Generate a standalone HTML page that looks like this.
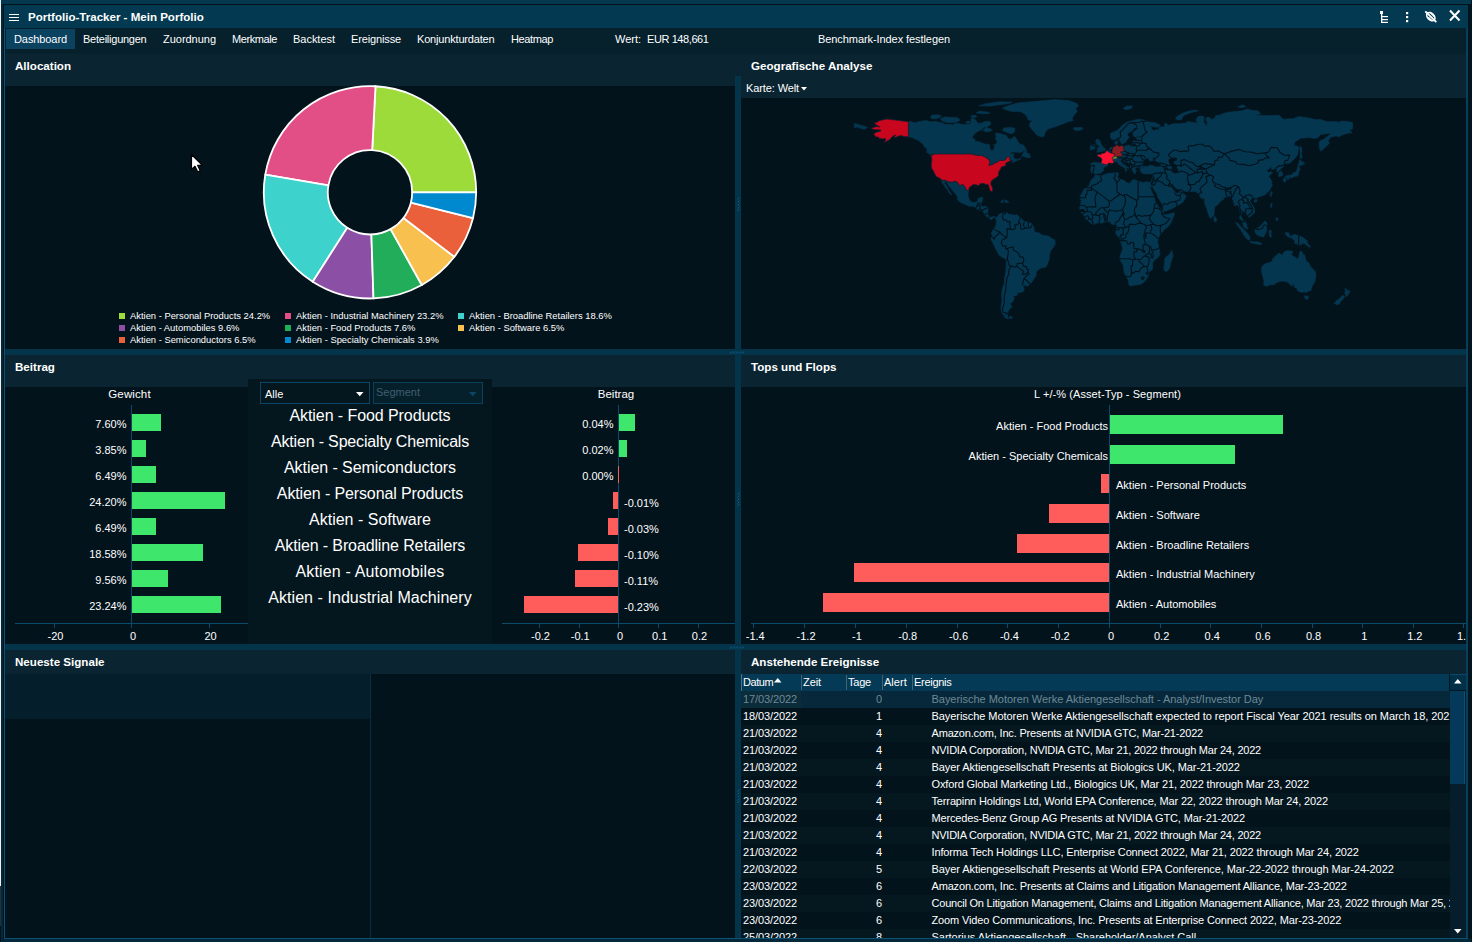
<!DOCTYPE html>
<html><head><meta charset="utf-8"><title>Portfolio-Tracker</title>
<style>
html,body{margin:0;padding:0;background:#03131c;}
body{width:1472px;height:942px;position:relative;overflow:hidden;font-family:"Liberation Sans", sans-serif;}
div,svg{position:absolute;}
.t{white-space:pre;font-family:"Liberation Sans", sans-serif;}
</style></head><body>
<div style="left:0px;top:0px;width:1472px;height:942px;background:#03131c;"></div>
<div style="left:1px;top:0px;width:1470px;height:4px;background:#04384f;"></div>
<div style="left:1px;top:4px;width:3px;height:938px;background:#03283a;"></div>
<div style="left:0px;top:0px;width:1px;height:886px;background:#f0f0f0;"></div>
<div style="left:0px;top:886px;width:1px;height:40px;background:#22313a;"></div>
<div style="left:3px;top:4px;width:1px;height:938px;background:#02141e;"></div>
<div style="left:4px;top:5px;width:1464px;height:23px;background:#033a51;"></div>
<div style="left:4px;top:28px;width:1px;height:911px;background:#0a5275;"></div>
<div style="left:1466px;top:28px;width:2px;height:911px;background:#06405c;"></div>
<div style="left:1468px;top:4px;width:4px;height:938px;background:#02141e;"></div>
<div style="left:1471px;top:0px;width:1px;height:4px;background:#02141e;"></div>
<div style="left:4px;top:938px;width:1464px;height:1px;background:#0a5275;"></div>
<div style="left:1px;top:939px;width:1470px;height:3px;background:#03283a;"></div>
<div style="left:5px;top:28px;width:1461px;height:26px;background:#06202c;"></div>
<div style="left:6px;top:29px;width:69px;height:20px;background:#0a4260;"></div>
<div style="left:9px;top:14px;width:10px;height:1.4px;background:#fff;"></div>
<div style="left:9px;top:17px;width:10px;height:1.4px;background:#fff;"></div>
<div style="left:9px;top:20px;width:10px;height:1.4px;background:#fff;"></div>
<div class="t" style="top:10.0px;line-height:14px;font-size:11.56px;color:#fff;font-weight:bold;left:28px;">Portfolio-Tracker - Mein Porfolio</div>
<div class="t" style="top:31.5px;line-height:14px;font-size:11px;color:#fff;left:14px;letter-spacing:-0.091px;">Dashboard</div>
<div class="t" style="top:31.5px;line-height:14px;font-size:11px;color:#fff;left:83px;letter-spacing:-0.244px;">Beteiligungen</div>
<div class="t" style="top:31.5px;line-height:14px;font-size:11px;color:#fff;left:163px;letter-spacing:-0.023px;">Zuordnung</div>
<div class="t" style="top:31.5px;line-height:14px;font-size:11px;color:#fff;left:232px;letter-spacing:-0.411px;">Merkmale</div>
<div class="t" style="top:31.5px;line-height:14px;font-size:11px;color:#fff;left:293px;letter-spacing:-0.023px;">Backtest</div>
<div class="t" style="top:31.5px;line-height:14px;font-size:11px;color:#fff;left:351px;letter-spacing:-0.136px;">Ereignisse</div>
<div class="t" style="top:31.5px;line-height:14px;font-size:11px;color:#fff;left:417px;letter-spacing:-0.175px;">Konjunkturdaten</div>
<div class="t" style="top:31.5px;line-height:14px;font-size:11px;color:#fff;left:511px;letter-spacing:-0.376px;">Heatmap</div>
<div class="t" style="top:31.5px;line-height:14px;font-size:11px;color:#fff;left:615px;letter-spacing:-0.015px;">Wert:</div>
<div class="t" style="top:31.5px;line-height:14px;font-size:11px;color:#fff;left:647px;letter-spacing:-0.413px;">EUR 148,661</div>
<div class="t" style="top:31.5px;line-height:14px;font-size:11px;color:#fff;left:818px;letter-spacing:-0.076px;">Benchmark-Index festlegen</div>
<svg style="left:1378px;top:9px" width="90" height="16" viewBox="0 0 90 16">
<g fill="#fff" stroke="none">
<rect x="2" y="2" width="3" height="3"/><rect x="3" y="4" width="1.3" height="10"/>
<rect x="3" y="7" width="7" height="1.2"/><rect x="3" y="10" width="7" height="1.2"/><rect x="3" y="12.8" width="7" height="1.2"/>
<rect x="28" y="3" width="2.2" height="2.2"/><rect x="28" y="7" width="2.2" height="2.2"/><rect x="28" y="11" width="2.2" height="2.2"/>
</g>
<g fill="none" stroke="#fff" stroke-width="1.6">
<ellipse cx="52.8" cy="7.6" rx="4.8" ry="3.2" transform="rotate(45 52.8 7.6)" stroke-width="1.7"/>
<path d="M47.3 2.3 L58.3 13.2" stroke-width="1.9"/><path d="M50.2 8.2 L53.6 11.6" stroke-width="1.4"/><path d="M52.2 3.6 L56.4 7.8" stroke-width="1.4"/>
<path d="M72 1.5 L81.5 11.5 M81.5 1.5 L72 11.5" stroke-width="2"/>
</g></svg>
<div style="left:5px;top:54px;width:1461px;height:32px;background:#0a2531;"></div>
<div style="left:741px;top:86px;width:725px;height:12px;background:#0a2531;"></div>
<div style="left:735px;top:76px;width:6px;height:273px;background:#04344a;"></div>
<div class="t" style="top:59.0px;line-height:14px;font-size:11.6px;color:#fff;font-weight:bold;left:15px;">Allocation</div>
<div class="t" style="top:59.0px;line-height:14px;font-size:11.6px;color:#fff;font-weight:bold;left:751px;">Geografische Analyse</div>
<div class="t" style="top:81.0px;line-height:14px;font-size:11px;color:#fff;left:746px;letter-spacing:-0.110px;">Karte: Welt</div>
<svg style="left:801px;top:87px" width="7" height="4"><path d="M0 0H6L3 3.5Z" fill="#fff"/></svg>
<svg style="left:0;top:0" width="736" height="349" viewBox="0 0 736 349"><g stroke="#fff" stroke-width="1.8" stroke-linejoin="round"><path d="M476.20 192.30A106.2 106.2 0 0 0 375.50 86.24L372.18 150.16A42.2 42.2 0 0 1 412.20 192.30Z" fill="#9ddb3b"/><path d="M375.50 86.24A106.2 106.2 0 0 0 265.27 174.72L328.38 185.31A42.2 42.2 0 0 1 372.18 150.16Z" fill="#e24e86"/><path d="M265.27 174.72A106.2 106.2 0 0 0 312.72 281.73L347.24 227.84A42.2 42.2 0 0 1 328.38 185.31Z" fill="#3ed2cd"/><path d="M312.72 281.73A106.2 106.2 0 0 0 373.50 298.44L371.39 234.48A42.2 42.2 0 0 1 347.24 227.84Z" fill="#8c4fa6"/><path d="M373.50 298.44A106.2 106.2 0 0 0 421.84 284.99L390.60 229.13A42.2 42.2 0 0 1 371.39 234.48Z" fill="#21ad59"/><path d="M421.84 284.99A106.2 106.2 0 0 0 454.36 256.81L403.52 217.93A42.2 42.2 0 0 1 390.60 229.13Z" fill="#f8c14f"/><path d="M454.36 256.81A106.2 106.2 0 0 0 473.03 218.04L410.94 202.53A42.2 42.2 0 0 1 403.52 217.93Z" fill="#e9603b"/><path d="M473.03 218.04A106.2 106.2 0 0 0 476.20 192.30L412.20 192.30A42.2 42.2 0 0 1 410.94 202.53Z" fill="#0089cf"/></g></svg>
<div style="left:119px;top:313px;width:6px;height:6px;background:#9ddb3b;"></div>
<div class="t" style="top:309.0px;line-height:14px;font-size:9.4px;color:#fff;left:130px;">Aktien - Personal Products 24.2%</div>
<div style="left:285px;top:313px;width:6px;height:6px;background:#e24e86;"></div>
<div class="t" style="top:309.0px;line-height:14px;font-size:9.4px;color:#fff;left:296px;">Aktien - Industrial Machinery 23.2%</div>
<div style="left:458px;top:313px;width:6px;height:6px;background:#3ed2cd;"></div>
<div class="t" style="top:309.0px;line-height:14px;font-size:9.4px;color:#fff;left:469px;">Aktien - Broadline Retailers 18.6%</div>
<div style="left:119px;top:325px;width:6px;height:6px;background:#8c4fa6;"></div>
<div class="t" style="top:321.0px;line-height:14px;font-size:9.4px;color:#fff;left:130px;">Aktien - Automobiles 9.6%</div>
<div style="left:285px;top:325px;width:6px;height:6px;background:#21ad59;"></div>
<div class="t" style="top:321.0px;line-height:14px;font-size:9.4px;color:#fff;left:296px;">Aktien - Food Products 7.6%</div>
<div style="left:458px;top:325px;width:6px;height:6px;background:#f8c14f;"></div>
<div class="t" style="top:321.0px;line-height:14px;font-size:9.4px;color:#fff;left:469px;">Aktien - Software 6.5%</div>
<div style="left:119px;top:337px;width:6px;height:6px;background:#e9603b;"></div>
<div class="t" style="top:333.0px;line-height:14px;font-size:9.4px;color:#fff;left:130px;">Aktien - Semiconductors 6.5%</div>
<div style="left:285px;top:337px;width:6px;height:6px;background:#0089cf;"></div>
<div class="t" style="top:333.0px;line-height:14px;font-size:9.4px;color:#fff;left:296px;">Aktien - Specialty Chemicals 3.9%</div>
<svg style="left:190.2px;top:152.7px" width="16" height="22" viewBox="-1.5 -1.5 16 22"><path d="M0 0 L0 15 L3.5 11.8 L6.2 17.3 L8.7 16.2 L6.1 10.8 L10.6 10.6 Z" fill="#fff" stroke="#000" stroke-width="1.2" stroke-linejoin="round"/></svg>
<div style="left:5px;top:349px;width:1461px;height:6px;background:#04344a;"></div>
<div style="left:5px;top:355px;width:1461px;height:32px;background:#0a2531;"></div>
<div style="left:735px;top:355px;width:6px;height:289px;background:#04344a;"></div>
<div class="t" style="top:360.0px;line-height:14px;font-size:11.6px;color:#fff;font-weight:bold;left:15px;">Beitrag</div>
<div class="t" style="top:360.0px;line-height:14px;font-size:11.6px;color:#fff;font-weight:bold;left:751px;">Tops und Flops</div>
<div style="left:248px;top:379px;width:244px;height:265px;background:#04161e;"></div>
<div style="left:260px;top:382px;width:108px;height:20px;border:1px solid #0b4666;background:#04161e"></div>
<div style="left:373px;top:382px;width:108px;height:20px;border:1px solid #0a405c;background:#06202b"></div>
<div class="t" style="top:386.5px;line-height:14px;font-size:11px;color:#fff;left:265px;">Alle</div>
<div class="t" style="top:385.0px;line-height:14px;font-size:11px;color:#3f5f70;left:376px;">Segment</div>
<svg style="left:356px;top:392px" width="8" height="5"><path d="M0 0H7.5L3.75 4.3Z" fill="#fff"/></svg>
<svg style="left:469px;top:392px" width="8" height="5"><path d="M0 0H7.5L3.75 4.3Z" fill="#0b4666"/></svg>
<div style="left:131px;top:405px;width:1px;height:218px;background:#0b4a6a;"></div>
<div style="left:15px;top:623px;width:233px;height:1px;background:#0b4a6a;"></div>
<div style="left:618px;top:405px;width:1px;height:218px;background:#0b4a6a;"></div>
<div style="left:502px;top:623px;width:233px;height:1px;background:#0b4a6a;"></div>
<div class="t" style="left:170px;width:400px;text-align:center;top:405.7px;line-height:20px;font-size:16px;color:#fff;letter-spacing:-0.079px;">Aktien - Food Products</div>
<div style="left:132px;top:414px;width:29px;height:17px;background:#3ee66b;"></div>
<div class="t" style="top:417.0px;line-height:14px;font-size:11px;color:#fff;right:1345.5px;">7.60%</div>
<div style="left:619px;top:414px;width:16px;height:17px;background:#3ee66b;"></div>
<div class="t" style="top:417.0px;line-height:14px;font-size:11px;color:#fff;right:858.5px;">0.04%</div>
<div class="t" style="left:170px;width:400px;text-align:center;top:431.7px;line-height:20px;font-size:16px;color:#fff;letter-spacing:-0.162px;">Aktien - Specialty Chemicals</div>
<div style="left:132px;top:440px;width:14px;height:17px;background:#3ee66b;"></div>
<div class="t" style="top:443.0px;line-height:14px;font-size:11px;color:#fff;right:1345.5px;">3.85%</div>
<div style="left:619px;top:440px;width:8px;height:17px;background:#3ee66b;"></div>
<div class="t" style="top:443.0px;line-height:14px;font-size:11px;color:#fff;right:858.5px;">0.02%</div>
<div class="t" style="left:170px;width:400px;text-align:center;top:457.7px;line-height:20px;font-size:16px;color:#fff;letter-spacing:-0.061px;">Aktien - Semiconductors</div>
<div style="left:132px;top:466px;width:24px;height:17px;background:#3ee66b;"></div>
<div class="t" style="top:469.0px;line-height:14px;font-size:11px;color:#fff;right:1345.5px;">6.49%</div>
<div style="left:618px;top:466px;width:1px;height:17px;background:#ff5c5c;"></div>
<div class="t" style="top:469.0px;line-height:14px;font-size:11px;color:#fff;right:858.5px;">0.00%</div>
<div class="t" style="left:170px;width:400px;text-align:center;top:483.7px;line-height:20px;font-size:16px;color:#fff;letter-spacing:-0.120px;">Aktien - Personal Products</div>
<div style="left:132px;top:492px;width:93px;height:17px;background:#3ee66b;"></div>
<div class="t" style="top:495.0px;line-height:14px;font-size:11px;color:#fff;right:1345.5px;">24.20%</div>
<div style="left:613px;top:492px;width:5px;height:17px;background:#ff5c5c;"></div>
<div class="t" style="top:495.5px;line-height:14px;font-size:11px;color:#fff;left:624px;">-0.01%</div>
<div class="t" style="left:170px;width:400px;text-align:center;top:509.7px;line-height:20px;font-size:16px;color:#fff;letter-spacing:0.010px;">Aktien - Software</div>
<div style="left:132px;top:518px;width:24px;height:17px;background:#3ee66b;"></div>
<div class="t" style="top:521.0px;line-height:14px;font-size:11px;color:#fff;right:1345.5px;">6.49%</div>
<div style="left:608px;top:518px;width:10px;height:17px;background:#ff5c5c;"></div>
<div class="t" style="top:521.5px;line-height:14px;font-size:11px;color:#fff;left:624px;">-0.03%</div>
<div class="t" style="left:170px;width:400px;text-align:center;top:535.7px;line-height:20px;font-size:16px;color:#fff;letter-spacing:-0.120px;">Aktien - Broadline Retailers</div>
<div style="left:132px;top:544px;width:71px;height:17px;background:#3ee66b;"></div>
<div class="t" style="top:547.0px;line-height:14px;font-size:11px;color:#fff;right:1345.5px;">18.58%</div>
<div style="left:578px;top:544px;width:40px;height:17px;background:#ff5c5c;"></div>
<div class="t" style="top:547.5px;line-height:14px;font-size:11px;color:#fff;left:624px;">-0.10%</div>
<div class="t" style="left:170px;width:400px;text-align:center;top:561.7px;line-height:20px;font-size:16px;color:#fff;letter-spacing:0.157px;">Aktien - Automobiles</div>
<div style="left:132px;top:570px;width:36px;height:17px;background:#3ee66b;"></div>
<div class="t" style="top:573.0px;line-height:14px;font-size:11px;color:#fff;right:1345.5px;">9.56%</div>
<div style="left:575px;top:570px;width:43px;height:17px;background:#ff5c5c;"></div>
<div class="t" style="top:573.5px;line-height:14px;font-size:11px;color:#fff;left:624px;">-0.11%</div>
<div class="t" style="left:170px;width:400px;text-align:center;top:587.7px;line-height:20px;font-size:16px;color:#fff;letter-spacing:0.056px;">Aktien - Industrial Machinery</div>
<div style="left:132px;top:596px;width:89px;height:17px;background:#3ee66b;"></div>
<div class="t" style="top:599.0px;line-height:14px;font-size:11px;color:#fff;right:1345.5px;">23.24%</div>
<div style="left:524px;top:596px;width:94px;height:17px;background:#ff5c5c;"></div>
<div class="t" style="top:599.5px;line-height:14px;font-size:11px;color:#fff;left:624px;">-0.23%</div>
<div class="t" style="top:387.0px;line-height:14px;font-size:11.5px;color:#fff;left:-170.5px;width:600px;text-align:center;letter-spacing:0.123px;">Gewicht</div>
<div class="t" style="top:387.0px;line-height:14px;font-size:11.5px;color:#fff;left:316px;width:600px;text-align:center;">Beitrag</div>
<div style="left:54px;top:623px;width:1px;height:5px;background:#0b4a6a;"></div>
<div class="t" style="top:628.5px;line-height:14px;font-size:11px;color:#fff;left:-244.5px;width:600px;text-align:center;">-20</div>
<div style="left:131px;top:623px;width:1px;height:5px;background:#0b4a6a;"></div>
<div class="t" style="top:628.5px;line-height:14px;font-size:11px;color:#fff;left:-167.0px;width:600px;text-align:center;">0</div>
<div style="left:209px;top:623px;width:1px;height:5px;background:#0b4a6a;"></div>
<div class="t" style="top:628.5px;line-height:14px;font-size:11px;color:#fff;left:-89.5px;width:600px;text-align:center;">20</div>
<div style="left:539px;top:623px;width:1px;height:5px;background:#0b4a6a;"></div>
<div class="t" style="top:628.5px;line-height:14px;font-size:11px;color:#fff;left:240.5px;width:600px;text-align:center;">-0.2</div>
<div style="left:579px;top:623px;width:1px;height:5px;background:#0b4a6a;"></div>
<div class="t" style="top:628.5px;line-height:14px;font-size:11px;color:#fff;left:280.25px;width:600px;text-align:center;">-0.1</div>
<div style="left:618px;top:623px;width:1px;height:5px;background:#0b4a6a;"></div>
<div class="t" style="top:628.5px;line-height:14px;font-size:11px;color:#fff;left:320.0px;width:600px;text-align:center;">0</div>
<div style="left:658px;top:623px;width:1px;height:5px;background:#0b4a6a;"></div>
<div class="t" style="top:628.5px;line-height:14px;font-size:11px;color:#fff;left:359.75px;width:600px;text-align:center;">0.1</div>
<div style="left:698px;top:623px;width:1px;height:5px;background:#0b4a6a;"></div>
<div class="t" style="top:628.5px;line-height:14px;font-size:11px;color:#fff;left:399.5px;width:600px;text-align:center;">0.2</div>
<div class="t" style="top:387.0px;line-height:14px;font-size:11px;color:#fff;left:807.5px;width:600px;text-align:center;letter-spacing:0.08px;">L +/-% (Asset-Typ - Segment)</div>
<div style="left:1109px;top:405px;width:1px;height:218px;background:#0b4a6a;"></div>
<div style="left:751px;top:623px;width:715px;height:1px;background:#0b4a6a;"></div>
<div style="left:1110px;top:415px;width:172.7px;height:19px;background:#3ee66b;"></div>
<div class="t" style="top:418.5px;line-height:14px;font-size:11px;color:#fff;right:364px;">Aktien - Food Products</div>
<div style="left:1110px;top:445px;width:124.5px;height:19px;background:#3ee66b;"></div>
<div class="t" style="top:448.5px;line-height:14px;font-size:11px;color:#fff;right:364px;">Aktien - Specialty Chemicals</div>
<div style="left:1100.6px;top:474px;width:8.4px;height:19px;background:#ff5c5c;"></div>
<div class="t" style="top:477.5px;line-height:14px;font-size:11px;color:#fff;left:1116px;">Aktien - Personal Products</div>
<div style="left:1048.5px;top:504px;width:60.5px;height:19px;background:#ff5c5c;"></div>
<div class="t" style="top:507.5px;line-height:14px;font-size:11px;color:#fff;left:1116px;">Aktien - Software</div>
<div style="left:1016.5px;top:534px;width:92.5px;height:19px;background:#ff5c5c;"></div>
<div class="t" style="top:537.5px;line-height:14px;font-size:11px;color:#fff;left:1116px;">Aktien - Broadline Retailers</div>
<div style="left:853.5px;top:563px;width:255.5px;height:19px;background:#ff5c5c;"></div>
<div class="t" style="top:566.5px;line-height:14px;font-size:11px;color:#fff;left:1116px;">Aktien - Industrial Machinery</div>
<div style="left:822.5px;top:593px;width:286.5px;height:19px;background:#ff5c5c;"></div>
<div class="t" style="top:596.5px;line-height:14px;font-size:11px;color:#fff;left:1116px;">Aktien - Automobiles</div>
<div style="left:753px;top:623px;width:1px;height:5px;background:#0b4a6a;"></div>
<div class="t" style="top:628.5px;line-height:14px;font-size:11px;color:#fff;left:455.26px;width:600px;text-align:center;">-1.4</div>
<div style="left:804px;top:623px;width:1px;height:5px;background:#0b4a6a;"></div>
<div class="t" style="top:628.5px;line-height:14px;font-size:11px;color:#fff;left:506.08000000000004px;width:600px;text-align:center;">-1.2</div>
<div style="left:855px;top:623px;width:1px;height:5px;background:#0b4a6a;"></div>
<div class="t" style="top:628.5px;line-height:14px;font-size:11px;color:#fff;left:556.9px;width:600px;text-align:center;">-1</div>
<div style="left:906px;top:623px;width:1px;height:5px;background:#0b4a6a;"></div>
<div class="t" style="top:628.5px;line-height:14px;font-size:11px;color:#fff;left:607.72px;width:600px;text-align:center;">-0.8</div>
<div style="left:957px;top:623px;width:1px;height:5px;background:#0b4a6a;"></div>
<div class="t" style="top:628.5px;line-height:14px;font-size:11px;color:#fff;left:658.54px;width:600px;text-align:center;">-0.6</div>
<div style="left:1007px;top:623px;width:1px;height:5px;background:#0b4a6a;"></div>
<div class="t" style="top:628.5px;line-height:14px;font-size:11px;color:#fff;left:709.36px;width:600px;text-align:center;">-0.4</div>
<div style="left:1058px;top:623px;width:1px;height:5px;background:#0b4a6a;"></div>
<div class="t" style="top:628.5px;line-height:14px;font-size:11px;color:#fff;left:760.1800000000001px;width:600px;text-align:center;">-0.2</div>
<div style="left:1109px;top:623px;width:1px;height:5px;background:#0b4a6a;"></div>
<div class="t" style="top:628.5px;line-height:14px;font-size:11px;color:#fff;left:811.0px;width:600px;text-align:center;">0</div>
<div style="left:1160px;top:623px;width:1px;height:5px;background:#0b4a6a;"></div>
<div class="t" style="top:628.5px;line-height:14px;font-size:11px;color:#fff;left:861.6399999999999px;width:600px;text-align:center;">0.2</div>
<div style="left:1210px;top:623px;width:1px;height:5px;background:#0b4a6a;"></div>
<div class="t" style="top:628.5px;line-height:14px;font-size:11px;color:#fff;left:912.28px;width:600px;text-align:center;">0.4</div>
<div style="left:1261px;top:623px;width:1px;height:5px;background:#0b4a6a;"></div>
<div class="t" style="top:628.5px;line-height:14px;font-size:11px;color:#fff;left:962.9200000000001px;width:600px;text-align:center;">0.6</div>
<div style="left:1312px;top:623px;width:1px;height:5px;background:#0b4a6a;"></div>
<div class="t" style="top:628.5px;line-height:14px;font-size:11px;color:#fff;left:1013.56px;width:600px;text-align:center;">0.8</div>
<div style="left:1362px;top:623px;width:1px;height:5px;background:#0b4a6a;"></div>
<div class="t" style="top:628.5px;line-height:14px;font-size:11px;color:#fff;left:1064.2px;width:600px;text-align:center;">1</div>
<div style="left:1413px;top:623px;width:1px;height:5px;background:#0b4a6a;"></div>
<div class="t" style="top:628.5px;line-height:14px;font-size:11px;color:#fff;left:1114.84px;width:600px;text-align:center;">1.2</div>
<div style="left:1463px;top:623px;width:1px;height:5px;background:#0b4a6a;"></div>
<div class="t" style="top:628.5px;line-height:14px;font-size:11px;color:#fff;left:1457px;">1.</div>
<div style="left:5px;top:644px;width:1461px;height:6px;background:#04344a;"></div>
<div style="left:5px;top:650px;width:1461px;height:24px;background:#0a2531;"></div>
<div style="left:735px;top:650px;width:6px;height:288px;background:#04344a;"></div>
<div class="t" style="top:655.0px;line-height:14px;font-size:11.6px;color:#fff;font-weight:bold;left:15px;">Neueste Signale</div>
<div class="t" style="top:655.0px;line-height:14px;font-size:11.6px;color:#fff;font-weight:bold;left:751px;">Anstehende Ereignisse</div>
<div style="left:5px;top:674px;width:365px;height:45px;background:#041e2b;"></div>
<div style="left:370px;top:674px;width:1px;height:264px;background:#0a2c3e;"></div>
<div style="left:741px;top:674px;width:709px;height:17px;background:#043a56;"></div>
<div style="left:741px;top:674px;width:1px;height:17px;background:#56717e;"></div>
<div style="left:801px;top:675px;width:1px;height:15px;background:#44626f;"></div>
<div style="left:846px;top:675px;width:1px;height:15px;background:#44626f;"></div>
<div style="left:882px;top:675px;width:1px;height:15px;background:#44626f;"></div>
<div style="left:912px;top:675px;width:1px;height:15px;background:#44626f;"></div>
<div class="t" style="top:674.5px;line-height:14px;font-size:11px;color:#fff;left:743px;letter-spacing:-0.420px;">Datum</div>
<div class="t" style="top:674.5px;line-height:14px;font-size:11px;color:#fff;left:803px;letter-spacing:-0.084px;">Zeit</div>
<div class="t" style="top:674.5px;line-height:14px;font-size:11px;color:#fff;left:848px;letter-spacing:-0.213px;">Tage</div>
<div class="t" style="top:674.5px;line-height:14px;font-size:11px;color:#fff;left:884px;letter-spacing:0.036px;">Alert</div>
<div class="t" style="top:674.5px;line-height:14px;font-size:11px;color:#fff;left:914px;letter-spacing:-0.280px;">Ereignis</div>
<svg style="left:774px;top:678px" width="8" height="5"><path d="M0 4.5H7.5L3.75 0Z" fill="#fff"/></svg>
<div style="left:741px;top:691px;width:709px;height:247px;overflow:hidden">
<div style="left:0;top:0px;width:709px;height:17px;background:#06283a"></div>
<div style="left:0;top:0px;width:60px;height:17px;background:#0b2c3b"></div>
<div class="t" style="left:2px;top:0.5px;line-height:14px;font-size:11px;color:#6e8896;letter-spacing:-0.105px;">17/03/2022</div>
<div class="t" style="right:568px;top:0.5px;line-height:14px;font-size:11px;color:#6e8896;">0</div>
<div class="t" style="left:190.5px;top:0.5px;line-height:14px;font-size:11px;color:#6e8896;letter-spacing:-0.028px;">Bayerische Motoren Werke Aktiengesellschaft - Analyst/Investor Day</div>
<div style="left:0;top:17px;width:709px;height:17px;background:#03131c"></div>
<div class="t" style="left:2px;top:17.5px;line-height:14px;font-size:11px;color:#fff;letter-spacing:-0.105px;">18/03/2022</div>
<div class="t" style="right:568px;top:17.5px;line-height:14px;font-size:11px;color:#fff;">1</div>
<div class="t" style="left:190.5px;top:17.5px;line-height:14px;font-size:11px;color:#fff;letter-spacing:-0.057px;">Bayerische Motoren Werke Aktiengesellschaft expected to report Fiscal Year 2021 results on March 18, 2022</div>
<div style="left:0;top:34px;width:709px;height:17px;background:#05171f"></div>
<div class="t" style="left:2px;top:34.5px;line-height:14px;font-size:11px;color:#fff;letter-spacing:-0.105px;">21/03/2022</div>
<div class="t" style="right:568px;top:34.5px;line-height:14px;font-size:11px;color:#fff;">4</div>
<div class="t" style="left:190.5px;top:34.5px;line-height:14px;font-size:11px;color:#fff;letter-spacing:-0.187px;">Amazon.com, Inc. Presents at NVIDIA GTC, Mar-21-2022</div>
<div style="left:0;top:51px;width:709px;height:17px;background:#03131c"></div>
<div class="t" style="left:2px;top:51.5px;line-height:14px;font-size:11px;color:#fff;letter-spacing:-0.105px;">21/03/2022</div>
<div class="t" style="right:568px;top:51.5px;line-height:14px;font-size:11px;color:#fff;">4</div>
<div class="t" style="left:190.5px;top:51.5px;line-height:14px;font-size:11px;color:#fff;letter-spacing:-0.227px;">NVIDIA Corporation, NVIDIA GTC, Mar 21, 2022 through Mar 24, 2022</div>
<div style="left:0;top:68px;width:709px;height:17px;background:#05171f"></div>
<div class="t" style="left:2px;top:68.5px;line-height:14px;font-size:11px;color:#fff;letter-spacing:-0.105px;">21/03/2022</div>
<div class="t" style="right:568px;top:68.5px;line-height:14px;font-size:11px;color:#fff;">4</div>
<div class="t" style="left:190.5px;top:68.5px;line-height:14px;font-size:11px;color:#fff;letter-spacing:-0.075px;">Bayer Aktiengesellschaft Presents at Biologics UK, Mar-21-2022</div>
<div style="left:0;top:85px;width:709px;height:17px;background:#03131c"></div>
<div class="t" style="left:2px;top:85.5px;line-height:14px;font-size:11px;color:#fff;letter-spacing:-0.105px;">21/03/2022</div>
<div class="t" style="right:568px;top:85.5px;line-height:14px;font-size:11px;color:#fff;">4</div>
<div class="t" style="left:190.5px;top:85.5px;line-height:14px;font-size:11px;color:#fff;letter-spacing:-0.140px;">Oxford Global Marketing Ltd., Biologics UK, Mar 21, 2022 through Mar 23, 2022</div>
<div style="left:0;top:102px;width:709px;height:17px;background:#05171f"></div>
<div class="t" style="left:2px;top:102.5px;line-height:14px;font-size:11px;color:#fff;letter-spacing:-0.105px;">21/03/2022</div>
<div class="t" style="right:568px;top:102.5px;line-height:14px;font-size:11px;color:#fff;">4</div>
<div class="t" style="left:190.5px;top:102.5px;line-height:14px;font-size:11px;color:#fff;letter-spacing:-0.140px;">Terrapinn Holdings Ltd, World EPA Conference, Mar 22, 2022 through Mar 24, 2022</div>
<div style="left:0;top:119px;width:709px;height:17px;background:#03131c"></div>
<div class="t" style="left:2px;top:119.5px;line-height:14px;font-size:11px;color:#fff;letter-spacing:-0.105px;">21/03/2022</div>
<div class="t" style="right:568px;top:119.5px;line-height:14px;font-size:11px;color:#fff;">4</div>
<div class="t" style="left:190.5px;top:119.5px;line-height:14px;font-size:11px;color:#fff;letter-spacing:-0.150px;">Mercedes-Benz Group AG Presents at NVIDIA GTC, Mar-21-2022</div>
<div style="left:0;top:136px;width:709px;height:17px;background:#05171f"></div>
<div class="t" style="left:2px;top:136.5px;line-height:14px;font-size:11px;color:#fff;letter-spacing:-0.105px;">21/03/2022</div>
<div class="t" style="right:568px;top:136.5px;line-height:14px;font-size:11px;color:#fff;">4</div>
<div class="t" style="left:190.5px;top:136.5px;line-height:14px;font-size:11px;color:#fff;letter-spacing:-0.227px;">NVIDIA Corporation, NVIDIA GTC, Mar 21, 2022 through Mar 24, 2022</div>
<div style="left:0;top:153px;width:709px;height:17px;background:#03131c"></div>
<div class="t" style="left:2px;top:153.5px;line-height:14px;font-size:11px;color:#fff;letter-spacing:-0.105px;">21/03/2022</div>
<div class="t" style="right:568px;top:153.5px;line-height:14px;font-size:11px;color:#fff;">4</div>
<div class="t" style="left:190.5px;top:153.5px;line-height:14px;font-size:11px;color:#fff;letter-spacing:-0.143px;">Informa Tech Holdings LLC, Enterprise Connect 2022, Mar 21, 2022 through Mar 24, 2022</div>
<div style="left:0;top:170px;width:709px;height:17px;background:#05171f"></div>
<div class="t" style="left:2px;top:170.5px;line-height:14px;font-size:11px;color:#fff;letter-spacing:-0.105px;">22/03/2022</div>
<div class="t" style="right:568px;top:170.5px;line-height:14px;font-size:11px;color:#fff;">5</div>
<div class="t" style="left:190.5px;top:170.5px;line-height:14px;font-size:11px;color:#fff;letter-spacing:-0.077px;">Bayer Aktiengesellschaft Presents at World EPA Conference, Mar-22-2022 through Mar-24-2022</div>
<div style="left:0;top:187px;width:709px;height:17px;background:#03131c"></div>
<div class="t" style="left:2px;top:187.5px;line-height:14px;font-size:11px;color:#fff;letter-spacing:-0.105px;">23/03/2022</div>
<div class="t" style="right:568px;top:187.5px;line-height:14px;font-size:11px;color:#fff;">6</div>
<div class="t" style="left:190.5px;top:187.5px;line-height:14px;font-size:11px;color:#fff;letter-spacing:-0.168px;">Amazon.com, Inc. Presents at Claims and Litigation Management Alliance, Mar-23-2022</div>
<div style="left:0;top:204px;width:709px;height:17px;background:#05171f"></div>
<div class="t" style="left:2px;top:204.5px;line-height:14px;font-size:11px;color:#fff;letter-spacing:-0.105px;">23/03/2022</div>
<div class="t" style="right:568px;top:204.5px;line-height:14px;font-size:11px;color:#fff;">6</div>
<div class="t" style="left:190.5px;top:204.5px;line-height:14px;font-size:11px;color:#fff;letter-spacing:-0.214px;">Council On Litigation Management, Claims and Litigation Management Alliance, Mar 23, 2022 through Mar 25, 2022</div>
<div style="left:0;top:221px;width:709px;height:17px;background:#03131c"></div>
<div class="t" style="left:2px;top:221.5px;line-height:14px;font-size:11px;color:#fff;letter-spacing:-0.105px;">23/03/2022</div>
<div class="t" style="right:568px;top:221.5px;line-height:14px;font-size:11px;color:#fff;">6</div>
<div class="t" style="left:190.5px;top:221.5px;line-height:14px;font-size:11px;color:#fff;letter-spacing:-0.135px;">Zoom Video Communications, Inc. Presents at Enterprise Connect 2022, Mar-23-2022</div>
<div style="left:0;top:238px;width:709px;height:17px;background:#05171f"></div>
<div class="t" style="left:2px;top:238.5px;line-height:14px;font-size:11px;color:#fff;letter-spacing:-0.105px;">25/03/2022</div>
<div class="t" style="right:568px;top:238.5px;line-height:14px;font-size:11px;color:#fff;">8</div>
<div class="t" style="left:190.5px;top:238.5px;line-height:14px;font-size:11px;color:#fff;letter-spacing:-0.024px;">Sartorius Aktiengesellschaft - Shareholder/Analyst Call</div>
</div>
<div style="left:1450px;top:675px;width:16px;height:263px;background:#061e2b;"></div>
<div style="left:1449px;top:674px;width:1px;height:17px;background:#02141e;"></div>
<div style="left:1450px;top:674px;width:16px;height:17px;background:#033049;"></div>
<div style="left:1450px;top:674px;width:16px;height:1px;background:#0a4a68;"></div>
<div style="left:1450px;top:690px;width:16px;height:1px;background:#02141e;"></div>
<div style="left:1450px;top:691px;width:15px;height:93px;background:#04395a;"></div>
<div style="left:1464px;top:691px;width:1px;height:93px;background:#0a5275;"></div>
<svg style="left:1454px;top:679px" width="8" height="5"><path d="M0 4.5H7.5L3.75 0Z" fill="#fff"/></svg>
<svg style="left:1454px;top:929px" width="8" height="5"><path d="M0 0H7.5L3.75 4.5Z" fill="#fff"/></svg>
<svg style="left:729px;top:350.5px" width="16" height="3"><path d="M1 2.5l2-2M4 2.5l2-2M7 2.5l2-2M10 2.5l2-2M13 2.5l2-2" stroke="#0a679a" stroke-width="1" fill="none"/></svg>
<svg style="left:729px;top:645.5px" width="16" height="3"><path d="M1 2.5l2-2M4 2.5l2-2M7 2.5l2-2M10 2.5l2-2M13 2.5l2-2" stroke="#0a679a" stroke-width="1" fill="none"/></svg>
<svg style="left:736.5px;top:197px" width="3" height="14"><path d="M0.5 2.5l2-2M0.5 5.5l2-2M0.5 8.5l2-2M0.5 11.5l2-2M0.5 14l2-2" stroke="#0a5a85" stroke-width="1" fill="none"/></svg>
<svg style="left:736.5px;top:492px" width="3" height="14"><path d="M0.5 2.5l2-2M0.5 5.5l2-2M0.5 8.5l2-2M0.5 11.5l2-2M0.5 14l2-2" stroke="#0a5a85" stroke-width="1" fill="none"/></svg>
<svg style="left:736.5px;top:789px" width="3" height="14"><path d="M0.5 2.5l2-2M0.5 5.5l2-2M0.5 8.5l2-2M0.5 11.5l2-2M0.5 14l2-2" stroke="#0a5a85" stroke-width="1" fill="none"/></svg>
<svg style="left:741px;top:98px" width="725" height="251" viewBox="741 98 725 251">
<path d="M908.3 121.7L911.0 121.8L915.2 122.8L918.0 121.8L922.1 121.1L926.3 120.4L930.4 121.8L936.0 121.4L941.5 122.8L945.7 124.5L951.2 124.4L954.0 125.1L954.0 123.3L957.4 123.3L962.3 124.5L967.8 124.5L970.6 123.9L971.3 121.8L970.6 119.5L972.7 118.1L976.1 120.3L976.8 121.8L978.2 123.4L981.7 122.9L984.4 121.8L985.8 121.4L990.0 121.5L990.9 123.4L990.0 125.0L987.2 126.9L984.4 127.0L983.0 128.6L981.0 130.2L978.9 130.8L976.1 132.4L974.0 134.4L972.7 136.8L972.2 138.7L974.7 138.8L975.4 141.5L978.9 141.5L982.3 143.1L985.8 144.2L989.5 144.5L989.7 147.8L991.3 150.2L993.4 150.2L994.1 148.6L994.7 146.2L993.4 145.0L996.2 143.9L997.3 141.5L995.5 139.0L996.2 136.8L995.5 133.2L999.7 133.3L1001.7 134.0L1003.8 134.8L1006.6 135.2L1007.3 137.6L1009.3 139.2L1012.1 138.7L1014.2 136.3L1017.0 139.6L1018.3 142.3L1020.4 144.2L1023.2 145.0L1025.3 147.8L1026.4 149.4L1024.6 150.3L1021.8 152.2L1018.3 152.4L1014.9 152.1L1011.4 152.2L1010.0 153.7L1013.5 153.8L1014.5 154.4L1012.8 155.7L1013.8 157.3L1014.2 158.5L1016.3 159.2L1018.3 159.2L1020.4 157.4L1020.4 159.2L1018.3 160.1L1015.6 161.2L1012.5 162.8L1011.8 161.5L1014.2 159.8L1012.8 160.0L1010.7 160.3L1010.7 160.7L1008.7 161.5L1006.6 162.5L1005.6 163.6L1005.5 164.4L1006.6 165.5L1004.6 165.9L1001.7 166.9L1001.0 167.5L1000.8 168.9L999.7 170.0L999.0 171.6L998.3 173.2L998.7 175.2L997.6 176.6L995.6 177.9L993.8 179.0L991.6 180.7L990.8 182.9L990.9 184.4L992.0 186.6L992.7 189.1L992.3 191.3L991.3 191.8L990.2 190.2L989.0 187.8L988.9 185.6L987.6 184.2L985.9 184.5L984.0 183.4L981.7 183.6L979.7 183.7L979.6 185.3L978.2 185.5L976.4 184.8L974.0 184.4L972.4 185.0L970.6 186.4L968.9 187.8L968.9 190.5L968.1 193.5L968.1 196.2L968.9 198.5L970.2 200.9L972.0 202.0L973.3 202.5L976.1 202.0L977.5 201.4L978.2 198.5L978.9 197.9L981.7 197.3L983.0 197.6L982.3 200.1L981.9 202.5L981.2 202.3L981.2 205.3L980.5 206.3L982.3 206.4L984.4 206.3L986.5 206.4L988.2 207.7L987.9 210.8L987.6 213.2L987.9 214.8L989.3 216.5L990.7 217.3L992.7 216.7L994.1 216.3L996.2 217.8L996.5 219.5L995.5 218.2L994.1 217.3L992.7 218.2L992.0 219.8L990.7 219.2L988.6 218.2L987.6 217.4L985.8 215.9L984.7 214.3L983.0 211.6L982.1 210.5L980.3 210.2L977.5 209.4L975.7 208.3L973.3 206.1L971.3 206.4L969.2 206.3L966.4 205.0L963.0 203.6L960.2 202.2L957.4 199.8L957.7 197.4L956.0 194.6L954.0 191.9L951.9 189.6L950.5 188.0L948.4 185.6L947.0 182.5L944.7 181.4L944.7 183.3L946.3 185.6L947.7 188.0L949.1 190.4L950.5 193.0L951.9 194.9L950.9 194.6L948.4 192.2L948.0 190.0L945.7 188.3L945.0 186.4L943.3 184.5L942.2 182.5L941.4 180.1L941.1 179.2L939.6 178.1L938.5 177.4L936.5 176.8L934.7 173.7L933.9 171.8L932.1 169.1L931.4 167.8L931.5 165.5L931.1 163.9L931.8 161.2L931.8 158.5L930.8 155.1L933.2 155.2L933.5 154.1L933.2 154.1L931.1 152.6L927.7 151.0L926.3 148.6L923.5 145.8L923.5 144.4L920.7 142.3L918.0 140.0L915.2 139.2L912.4 137.6L908.3 136.8L908.3 136.8L904.1 136.6L901.3 135.5L898.6 136.0L896.5 137.1L893.7 137.6L895.8 134.9L893.0 136.0L891.0 137.9L890.3 139.3L887.5 140.7L886.1 141.7L884.3 142.2L885.4 140.7L885.7 138.8L884.0 138.7L882.0 138.8L879.2 138.4L878.5 137.0L876.4 137.0L875.0 135.7L873.7 134.3L875.7 132.4L877.8 131.9L880.6 131.3L880.6 129.9L877.8 129.7L873.7 129.6L870.9 128.0L873.7 127.4L876.4 126.6L879.9 126.9L877.8 125.8L876.4 124.8L873.7 122.9L877.1 122.3L879.2 120.7L883.3 119.8L886.8 119.0L893.0 119.8L898.6 120.4L902.7 121.1L908.3 121.7ZM996.5 217.8L999.0 214.6L999.9 213.8L1002.4 213.3L1003.8 212.1L1004.8 212.9L1004.1 214.3L1005.2 215.2L1006.3 213.2L1006.9 212.2L1008.7 214.3L1012.1 214.6L1014.2 215.2L1017.0 214.4L1018.3 215.9L1019.7 217.9L1021.8 218.7L1023.9 221.4L1027.3 222.0L1030.8 223.0L1032.5 224.7L1034.3 228.6L1034.3 231.3L1036.3 232.6L1039.1 232.9L1041.9 234.9L1045.3 235.7L1048.1 235.9L1050.2 237.1L1052.3 238.9L1054.6 239.6L1055.3 242.6L1054.8 245.5L1052.3 248.6L1050.2 251.8L1049.5 254.9L1049.2 258.9L1048.1 262.5L1046.7 265.9L1045.3 267.4L1041.9 267.7L1039.1 269.1L1036.3 271.9L1036.1 275.4L1034.0 279.0L1031.5 282.5L1029.4 284.9L1027.3 286.3L1024.6 285.6L1022.6 284.9L1024.3 288.5L1023.6 291.5L1020.4 292.6L1017.4 292.7L1017.2 295.6L1013.5 295.9L1014.2 298.2L1013.1 301.4L1010.0 303.8L1012.1 306.6L1008.7 310.1L1008.0 312.4L1008.9 314.0L1005.9 314.3L1005.2 316.0L1003.1 314.8L1002.1 313.2L1001.3 310.8L1001.0 306.9L1001.3 303.8L1002.1 300.6L1001.6 297.4L1001.7 293.5L1002.1 289.9L1003.1 286.4L1004.5 282.5L1004.5 278.6L1005.2 274.6L1005.9 270.7L1006.2 265.9L1006.3 261.2L1005.9 260.1L1004.5 258.5L1001.7 257.0L999.0 254.9L997.6 252.6L996.5 250.2L994.8 247.1L993.4 243.9L992.0 241.2L990.9 239.2L991.3 237.3L992.7 236.5L992.0 234.8L991.3 232.9L992.7 230.5L994.1 228.9L994.8 227.4L996.2 225.0L996.2 221.9L996.2 220.0ZM1008.5 314.3L1009.1 316.0L1013.1 317.5L1011.4 318.2L1007.3 318.6L1003.8 316.8L1005.2 316.0L1006.6 315.2ZM1020.4 312.6L1020.6 312.6L1020.6 312.7ZM1095.3 174.9L1100.7 175.9L1103.5 174.9L1107.7 173.2L1113.2 173.0L1117.3 172.6L1118.7 173.2L1118.0 175.4L1117.3 177.3L1118.7 178.5L1120.8 179.5L1124.3 180.4L1125.7 182.0L1128.4 183.3L1130.5 183.1L1131.2 180.9L1133.3 179.5L1135.3 180.1L1138.1 181.2L1140.9 182.0L1143.7 182.6L1146.4 181.7L1148.2 182.2L1150.9 182.0L1151.8 184.8L1151.0 187.5L1149.6 185.9L1148.5 184.1L1149.9 187.2L1152.0 191.9L1153.3 195.1L1154.7 198.2L1155.1 201.4L1156.8 203.0L1158.2 206.9L1160.3 208.5L1162.3 210.8L1163.5 211.6L1163.3 213.2L1164.4 214.8L1167.2 214.3L1170.0 213.7L1174.1 212.6L1174.4 214.8L1172.7 218.7L1171.3 221.9L1170.0 224.2L1167.2 227.4L1164.4 229.7L1161.7 232.9L1159.6 235.2L1158.2 238.4L1157.5 241.5L1158.2 243.9L1158.9 247.8L1159.6 251.0L1159.9 254.9L1157.5 258.1L1154.7 259.7L1152.7 262.8L1152.7 267.5L1152.4 269.9L1149.2 271.5L1148.9 273.8L1147.8 277.0L1145.7 280.1L1143.0 283.0L1140.2 284.5L1136.7 284.9L1134.0 285.3L1131.2 286.1L1129.0 285.2L1128.7 282.5L1127.7 279.3L1126.3 276.3L1124.5 273.5L1123.6 269.1L1123.4 265.9L1121.9 262.8L1120.1 259.7L1119.8 256.5L1120.8 253.4L1122.2 251.0L1122.6 247.8L1121.5 244.7L1120.5 241.1L1120.1 239.2L1118.7 237.3L1116.7 235.1L1115.7 232.6L1116.7 229.7L1116.9 227.4L1117.1 225.3L1115.7 224.2L1113.2 224.4L1111.8 224.5L1109.7 221.5L1107.0 221.4L1104.9 222.0L1102.1 223.1L1099.3 223.3L1097.3 223.1L1093.1 224.4L1091.0 223.4L1088.3 220.9L1086.2 219.5L1085.1 217.1L1083.0 214.3L1081.3 212.7L1080.2 211.6L1080.2 209.2L1079.3 208.1L1080.7 206.1L1080.9 203.0L1081.1 200.6L1080.0 198.2L1080.1 196.7L1081.3 194.0L1082.7 191.9L1083.4 189.9L1085.5 187.7L1087.6 186.7L1089.7 184.8L1090.1 182.5L1091.0 180.1L1093.1 178.4L1094.5 177.0ZM1171.8 250.2L1173.1 255.7L1172.0 258.9L1170.7 263.6L1169.3 269.1L1166.5 271.5L1164.4 270.7L1163.7 266.7L1164.8 262.8L1164.4 258.9L1166.5 256.5L1169.3 254.6L1170.7 252.2ZM1095.7 174.6L1094.6 173.3L1093.3 172.7L1091.2 173.0L1091.3 170.7L1090.3 170.2L1091.2 168.0L1091.3 165.5L1090.6 163.6L1092.4 162.5L1095.9 162.6L1098.7 162.8L1101.0 162.9L1101.8 161.1L1102.0 159.2L1100.5 157.3L1097.3 155.9L1097.0 154.9L1099.3 154.4L1101.3 154.6L1101.0 153.0L1101.8 153.5L1103.8 153.3L1105.6 152.4L1105.9 151.1L1107.0 150.8L1108.3 150.3L1109.3 149.4L1110.1 147.8L1111.8 147.2L1113.5 146.9L1115.0 146.6L1115.7 146.1L1115.4 144.7L1114.7 143.1L1114.9 141.5L1116.7 141.2L1118.0 140.4L1118.0 142.3L1117.2 143.9L1117.1 145.0L1118.5 146.2L1120.1 145.9L1122.2 145.5L1123.3 146.4L1125.7 145.8L1128.4 145.0L1129.8 145.6L1131.2 145.5L1132.6 144.2L1132.6 141.8L1133.7 140.6L1135.8 141.5L1137.1 141.2L1137.3 139.5L1136.0 138.1L1138.8 137.4L1142.3 137.6L1143.7 136.8L1145.3 137.0L1143.0 135.9L1139.5 136.2L1135.3 137.0L1133.3 135.9L1133.0 133.7L1133.3 131.8L1135.3 130.5L1137.4 129.1L1138.5 128.1L1136.9 127.7L1134.0 128.0L1133.1 129.7L1131.9 131.0L1129.1 132.4L1127.5 134.1L1127.3 135.7L1129.5 136.8L1128.1 138.7L1126.5 140.3L1126.1 142.3L1124.0 142.9L1123.2 144.0L1121.5 144.0L1121.1 142.8L1119.8 140.7L1119.0 138.5L1118.2 137.6L1116.7 138.5L1114.6 139.8L1112.6 139.8L1111.1 138.7L1110.4 136.8L1110.4 134.9L1110.7 133.3L1112.9 132.2L1115.3 131.3L1117.3 130.2L1119.4 128.6L1120.8 127.0L1122.2 125.3L1124.3 123.9L1126.3 122.6L1129.1 121.4L1132.6 120.7L1136.0 119.8L1139.1 119.3L1142.3 119.5L1145.7 120.7L1146.4 121.4L1149.2 122.0L1154.7 122.6L1160.3 125.0L1159.6 126.7L1156.1 127.2L1151.3 126.6L1149.2 126.1L1151.7 127.5L1151.7 129.7L1154.7 130.5L1156.1 129.6L1158.9 129.6L1158.9 127.8L1161.7 126.7L1164.4 127.0L1164.8 124.5L1164.1 123.4L1167.2 123.9L1167.9 125.8L1170.0 124.8L1174.1 123.6L1178.3 123.7L1183.1 123.1L1186.6 123.1L1187.3 121.4L1192.1 122.2L1196.3 122.9L1198.3 123.9L1196.3 121.8L1196.3 119.5L1198.3 116.3L1201.8 116.0L1204.3 117.1L1203.9 119.5L1203.9 122.6L1205.5 123.7L1204.6 125.8L1206.7 125.0L1207.3 122.6L1205.7 119.5L1207.3 117.1L1210.1 117.6L1211.5 119.5L1215.0 117.9L1215.7 115.5L1219.8 115.1L1224.0 113.2L1228.1 112.2L1235.0 111.6L1242.0 110.8L1247.5 108.9L1251.7 110.3L1258.6 111.1L1260.7 114.0L1255.8 114.9L1260.0 115.4L1266.9 115.5L1274.5 115.2L1279.3 115.5L1282.1 117.9L1283.5 119.5L1287.7 118.7L1293.2 118.7L1297.3 117.1L1298.7 116.6L1305.7 117.4L1311.2 118.5L1314.7 119.6L1320.9 119.5L1325.0 121.1L1327.8 121.7L1333.3 121.8L1336.8 121.4L1339.6 122.9L1340.3 121.1L1347.2 121.4L1352.7 122.6L1352.7 128.8L1350.7 129.7L1349.3 129.4L1351.3 132.1L1352.0 133.0L1348.6 132.9L1345.1 134.0L1341.7 135.2L1339.3 136.8L1336.1 136.0L1333.3 136.8L1331.3 137.0L1329.6 138.4L1329.2 140.0L1327.8 140.3L1329.5 142.8L1327.8 145.0L1325.0 147.5L1323.0 149.4L1320.5 151.0L1319.5 148.6L1319.1 145.5L1319.2 142.3L1320.6 140.3L1323.7 139.2L1327.5 136.3L1329.9 134.4L1330.6 132.9L1325.0 134.0L1320.9 134.3L1318.1 137.6L1314.0 138.4L1309.8 137.6L1305.0 137.9L1300.8 138.1L1297.3 140.4L1294.6 142.3L1293.9 145.5L1296.7 145.9L1299.1 147.5L1298.0 150.2L1298.0 153.3L1297.3 155.2L1295.3 158.1L1292.5 160.7L1289.7 163.3L1287.0 163.3L1284.9 164.2L1284.5 164.7L1283.1 166.7L1281.4 168.3L1280.0 168.8L1281.1 170.3L1282.5 173.0L1282.8 174.9L1281.8 176.0L1280.0 176.6L1278.4 176.6L1278.7 174.6L1279.1 173.0L1278.0 171.8L1276.6 171.5L1277.0 169.1L1275.6 168.5L1273.1 169.1L1271.5 170.0L1272.1 167.0L1270.8 167.5L1268.3 169.6L1266.6 169.9L1266.9 171.1L1268.3 172.4L1270.6 171.8L1273.1 172.7L1272.4 173.3L1270.3 174.6L1268.7 176.2L1270.3 178.5L1271.0 180.1L1272.3 182.2L1271.3 183.4L1272.4 184.4L1271.7 186.7L1270.3 188.8L1269.0 191.1L1266.9 192.7L1265.2 194.8L1262.0 195.9L1260.7 196.3L1257.9 197.3L1256.2 197.9L1256.1 199.3L1255.1 197.4L1253.3 197.4L1251.4 198.5L1250.0 200.6L1251.0 203.3L1253.5 206.1L1254.7 209.6L1254.7 212.7L1252.3 214.8L1251.2 215.9L1248.9 217.6L1248.6 215.6L1246.8 214.6L1245.8 212.7L1243.3 211.3L1243.2 210.0L1242.0 210.2L1241.8 212.4L1240.9 214.8L1241.0 216.8L1242.2 217.9L1242.7 220.0L1244.5 221.1L1246.1 222.6L1246.7 225.0L1247.2 227.4L1247.8 229.1L1246.7 229.1L1243.8 226.9L1242.4 222.6L1242.4 221.1L1241.3 220.0L1239.6 218.4L1239.9 215.9L1240.2 213.2L1239.9 210.8L1238.9 207.7L1238.6 205.3L1236.4 205.3L1234.3 206.1L1234.1 203.0L1233.0 200.1L1231.3 198.2L1230.6 195.9L1228.8 195.9L1227.4 197.0L1225.3 197.1L1224.0 197.9L1223.3 199.8L1221.2 200.7L1217.7 204.8L1214.7 206.9L1214.4 210.0L1214.0 213.2L1214.0 215.1L1212.2 217.1L1210.8 218.5L1209.4 217.1L1208.7 214.8L1207.3 211.6L1206.7 208.5L1205.3 205.3L1204.4 201.4L1204.2 198.2L1201.7 198.5L1199.3 196.2L1200.8 195.1L1198.3 194.3L1196.7 192.6L1195.6 191.3L1192.1 191.5L1188.7 191.6L1185.2 191.3L1182.7 190.5L1181.7 188.6L1179.4 189.4L1176.9 188.8L1174.8 187.2L1173.4 184.8L1171.3 183.6L1170.0 184.1L1170.7 186.4L1172.0 188.3L1173.0 189.6L1173.8 191.9L1174.5 190.2L1174.9 191.9L1176.2 193.2L1178.3 193.2L1180.3 191.1L1181.5 190.0L1181.7 192.2L1183.1 193.8L1184.9 194.6L1186.3 195.9L1185.2 198.5L1183.5 201.4L1181.7 203.0L1179.7 204.5L1176.9 205.3L1174.8 207.2L1171.3 208.9L1168.6 210.0L1165.8 211.1L1163.7 211.3L1163.0 208.5L1162.6 205.3L1161.0 202.2L1158.9 199.0L1157.5 196.7L1156.8 193.5L1154.7 190.7L1152.7 187.2L1151.8 184.8L1151.0 182.0L1151.8 180.1L1152.2 178.5L1153.2 176.2L1153.3 174.1L1152.0 173.7L1149.9 174.3L1147.8 173.8L1145.7 174.1L1144.3 173.8L1142.3 173.5L1141.3 172.2L1140.2 170.7L1140.6 169.1L1139.8 168.0L1141.6 167.5L1143.7 167.5L1143.8 166.4L1147.1 166.4L1149.9 165.2L1152.2 165.2L1154.0 166.3L1156.8 166.9L1159.6 166.7L1161.1 165.8L1161.0 164.4L1158.9 162.8L1156.8 161.5L1155.4 160.9L1155.1 159.6L1156.8 158.5L1157.9 157.0L1155.4 157.3L1152.7 158.1L1152.0 159.3L1154.0 160.0L1152.7 160.4L1149.9 161.2L1148.5 159.6L1149.9 158.9L1147.8 158.1L1146.0 158.1L1144.8 159.6L1143.4 160.7L1143.0 162.8L1141.9 164.0L1142.3 165.3L1143.7 166.4L1141.6 166.9L1139.8 167.8L1139.5 167.0L1137.4 166.9L1136.5 167.8L1135.1 167.7L1135.1 169.1L1135.6 169.9L1136.7 171.1L1135.6 171.6L1135.3 173.8L1134.2 173.8L1133.3 172.2L1132.9 170.8L1131.9 169.4L1130.9 168.0L1130.4 165.9L1129.8 164.8L1127.7 163.6L1125.7 162.6L1124.3 161.2L1123.6 160.1L1122.5 160.0L1122.3 159.3L1120.8 159.8L1120.5 161.2L1122.2 162.6L1123.2 164.5L1125.7 165.5L1125.7 166.1L1128.4 167.4L1129.1 168.1L1128.4 168.5L1127.0 167.5L1126.5 168.8L1127.2 169.9L1126.3 171.0L1125.7 171.6L1125.2 171.3L1125.7 169.9L1125.0 168.3L1123.6 167.4L1122.2 166.4L1120.5 165.6L1118.7 164.4L1117.8 162.8L1116.0 161.5L1114.6 162.2L1113.9 162.5L1112.1 163.4L1110.1 162.9L1108.3 163.1L1107.8 164.5L1107.9 165.5L1106.3 166.3L1104.6 167.0L1103.2 168.8L1103.8 170.2L1102.7 171.5L1101.3 172.6L1100.5 173.3L1097.4 173.5ZM854.3 123.4L858.4 124.5L861.2 125.5L864.7 126.2L867.4 127.4L864.7 129.2L862.6 128.9L859.8 128.0L856.3 127.0L854.3 128.3ZM1021.4 156.3L1023.9 156.3L1026.7 157.4L1030.1 157.7L1030.5 156.3L1029.4 154.9L1029.4 153.7L1027.3 153.3L1026.0 152.2L1026.7 150.2L1024.6 151.0L1023.2 153.3ZM932.8 155.1L929.7 154.3L926.0 151.8L927.0 151.1L930.4 152.2L932.1 153.7ZM1000.5 202.0L1002.4 200.0L1004.5 200.0L1006.6 200.3L1008.8 202.0L1008.0 202.5L1005.2 202.6L1003.1 202.6ZM1014.2 132.1L1012.1 133.7L1008.0 132.9L1002.4 130.5L1003.8 128.1L1009.3 127.4L1014.9 128.1ZM942.9 121.4L940.1 119.0L944.3 117.0L951.2 117.3L956.7 117.4L960.2 119.8L958.1 121.5L952.6 122.6L947.0 122.6ZM930.4 117.9L931.8 115.1L938.7 114.8L941.5 116.3L937.3 118.5L933.2 119.0ZM978.9 105.8L985.8 103.7L999.7 101.7L1012.1 102.2L1009.3 103.4L999.7 104.8L990.0 106.1ZM990.0 113.3L987.2 111.9L978.9 111.3L976.1 112.9L983.0 113.8ZM971.3 117.4L971.5 115.4L976.1 115.4L976.8 116.6L974.7 117.4ZM965.7 122.6L967.8 121.1L970.6 121.8L969.9 123.1L967.1 123.3ZM983.0 130.5L985.8 127.4L988.6 128.1L992.0 129.7L990.7 131.3L985.8 131.8ZM1002.4 108.1L1009.3 105.3L1017.7 102.9L1034.3 101.4L1055.0 99.6L1068.9 100.6L1075.8 102.9L1078.6 105.3L1075.8 108.5L1077.2 111.6L1074.4 114.8L1072.3 117.9L1073.0 120.6L1068.2 121.8L1063.3 123.7L1057.8 125.8L1052.3 127.7L1048.1 128.9L1045.3 132.1L1044.0 136.5L1041.2 136.8L1037.0 135.2L1034.3 132.1L1031.5 128.9L1029.4 125.8L1030.1 122.6L1032.9 121.1L1028.0 119.8L1027.3 117.1L1024.6 114.0L1020.4 111.6L1012.1 111.6L1006.6 110.0ZM1073.0 128.5L1074.4 127.5L1078.6 127.5L1082.0 127.5L1083.0 128.9L1081.3 129.7L1077.9 130.7L1075.1 130.3L1074.0 129.9L1074.4 129.2ZM1096.3 152.2L1098.7 151.9L1102.1 151.3L1104.9 150.7L1105.3 148.5L1103.8 147.8L1102.9 146.2L1101.3 144.7L1100.5 143.1L1100.2 140.9L1098.5 140.6L1098.8 139.3L1096.6 139.3L1095.6 140.9L1096.2 143.1L1096.9 144.7L1098.7 145.1L1099.2 146.2L1099.2 147.2L1097.5 147.5L1097.8 148.6L1096.7 149.7L1098.7 150.2L1097.5 150.8ZM1094.8 148.9L1094.9 147.0L1094.8 144.8L1092.4 144.5L1090.2 146.1L1090.6 147.8L1089.8 149.2L1090.6 149.9L1093.1 149.2ZM1122.9 108.5L1127.0 105.9L1132.6 105.9L1131.2 108.5L1125.7 109.7ZM1175.5 119.0L1176.9 116.6L1181.0 114.0L1186.6 111.6L1194.9 110.0L1198.3 110.8L1190.7 112.7L1185.2 114.8L1182.4 117.1L1181.7 119.5L1179.0 119.9ZM1237.8 106.9L1242.0 104.8L1246.1 106.4L1242.0 107.7ZM1300.1 145.8L1301.5 147.8L1301.9 151.0L1301.5 154.1L1302.2 157.6L1300.1 158.9L1300.1 155.7L1300.4 152.6L1299.8 149.4ZM1297.3 165.9L1298.7 163.6L1299.4 160.0L1301.5 161.2L1304.7 163.1L1302.2 165.2L1298.7 165.5ZM1298.7 166.1L1300.1 169.1L1298.7 172.2L1298.5 174.9L1297.1 176.2L1295.3 176.6L1293.2 176.8L1291.5 178.5L1290.4 177.0L1287.7 177.3L1284.9 177.8L1284.9 176.8L1287.0 175.4L1289.7 175.2L1291.8 175.1L1292.9 173.0L1295.3 172.2L1297.1 169.9L1297.3 167.5ZM1283.5 178.5L1285.6 178.2L1286.3 179.3L1285.6 181.7L1284.2 182.2L1283.2 180.1ZM1287.0 177.9L1289.7 177.4L1289.3 178.9L1287.7 179.6ZM1271.0 191.6L1272.4 192.2L1271.0 196.7L1269.9 195.1ZM1254.4 199.8L1257.2 199.8L1256.5 202.2L1254.1 202.0ZM1270.8 203.3L1272.1 203.3L1271.9 206.9L1270.8 207.7ZM1275.9 218.2L1277.7 217.8L1277.8 220.3L1276.3 220.6ZM1255.1 229.3L1257.5 228.2L1260.0 226.6L1262.0 224.2L1264.8 221.1L1266.6 222.2L1267.3 224.2L1266.2 226.6L1266.9 229.7L1265.9 232.6L1264.5 235.2L1263.8 237.0L1262.0 236.8L1260.0 236.0L1257.9 235.7L1256.2 234.1L1254.8 231.6ZM1235.7 222.6L1238.2 223.4L1240.3 225.9L1242.7 228.3L1245.0 230.4L1246.9 232.7L1248.6 234.9L1250.0 236.8L1249.7 240.1L1248.3 240.1L1245.8 237.8L1243.8 235.2L1242.2 232.6L1240.6 229.4L1238.2 226.6ZM1250.3 241.2L1253.7 241.9L1256.9 241.7L1259.5 242.3L1261.6 243.6L1261.3 244.7L1258.6 244.4L1255.1 243.4L1252.3 243.3L1250.5 242.5ZM1269.4 230.4L1271.0 229.9L1271.3 232.1L1271.0 234.8L1271.5 237.0L1269.9 237.3L1269.4 235.2L1269.1 232.1ZM1285.3 232.7L1287.1 232.4L1288.8 232.9L1289.5 234.8L1290.7 236.5L1292.9 235.1L1294.9 234.3L1298.7 235.7L1302.2 237.0L1304.3 238.2L1306.1 240.1L1307.9 241.2L1307.0 242.2L1308.4 244.4L1310.9 247.1L1309.1 247.1L1306.8 245.5L1305.0 243.7L1302.9 243.3L1301.2 244.8L1298.7 245.3L1296.4 243.6L1294.6 243.6L1294.9 241.5L1293.9 239.6L1291.5 238.2L1289.5 237.3L1287.7 237.0L1286.7 235.4L1285.2 233.8ZM1214.3 215.9L1216.1 217.9L1216.9 220.3L1215.7 221.7L1214.3 221.9L1213.9 218.7ZM1300.9 250.8L1302.2 252.1L1302.6 254.0L1304.7 254.9L1305.7 258.9L1306.1 261.1L1309.1 263.1L1310.5 266.4L1312.3 268.3L1314.7 270.7L1315.6 272.2L1316.0 275.7L1315.3 279.3L1314.7 282.5L1313.0 284.5L1311.5 288.0L1311.1 290.4L1308.4 291.0L1306.2 292.7L1304.3 291.8L1302.2 292.4L1299.4 291.8L1297.3 290.4L1296.7 287.7L1294.6 287.4L1294.9 285.6L1293.9 286.6L1294.3 283.3L1293.2 284.2L1291.8 286.1L1290.8 285.6L1289.0 283.0L1286.3 281.7L1282.1 281.1L1278.0 282.0L1275.2 283.3L1274.5 284.7L1269.7 284.7L1266.9 286.4L1263.6 285.2L1264.0 281.7L1263.3 278.6L1262.3 274.6L1261.6 272.2L1261.6 269.1L1261.9 266.7L1262.7 265.6L1264.8 263.9L1268.3 262.8L1271.3 262.0L1272.8 259.7L1272.7 258.1L1274.5 258.5L1274.6 256.8L1276.6 255.4L1277.7 253.8L1279.3 253.2L1281.1 254.6L1282.8 254.8L1283.2 253.0L1284.5 251.6L1285.6 251.1L1287.1 250.7L1288.3 250.8L1290.8 251.1L1292.6 251.1L1292.4 252.6L1291.5 254.6L1293.2 256.2L1296.0 257.8L1297.3 259.0L1298.7 257.3L1299.4 254.1L1299.8 251.8ZM1304.3 295.7L1306.3 296.2L1308.3 295.9L1308.4 297.8L1307.5 299.2L1305.9 299.5L1305.0 298.1ZM1344.8 288.5L1346.6 289.1L1347.5 290.5L1350.0 290.8L1349.4 293.0L1348.4 293.5L1347.5 295.4L1346.2 296.7L1345.7 296.2L1345.9 294.6L1344.4 293.4L1345.3 291.9L1345.3 290.0ZM1342.8 295.2L1344.7 296.7L1343.0 299.0L1342.3 300.3L1340.5 301.4L1339.6 303.8L1337.5 304.7L1335.4 304.1L1334.0 303.4L1336.1 300.9L1338.9 299.0L1341.0 297.1Z" fill="#04364f" stroke="#04364f" stroke-width="0.6" stroke-linejoin="round"/>
<path d="M1171.3 158.1L1174.1 157.6L1176.9 158.1L1176.9 160.4L1174.1 161.2L1173.4 163.6L1175.5 164.4L1176.9 165.9L1176.9 168.3L1178.3 169.9L1178.0 172.7L1175.5 173.5L1172.7 172.6L1171.3 170.7L1172.0 167.8L1170.7 165.5L1169.3 163.6L1168.6 161.2L1168.6 159.6Z" fill="#03131c"/>
<path d="M1100.5 176.0L1101.1 178.5L1101.8 180.6L1098.7 182.5L1096.6 184.1L1091.5 186.1L1091.5 188.3M1091.5 187.7L1085.2 187.7M1091.5 188.3L1091.5 190.4L1086.9 190.4L1086.9 194.3L1085.5 195.1L1085.5 197.8L1080.0 197.8M1091.5 188.3L1096.9 191.9L1105.2 198.1L1107.9 200.1L1109.3 201.2L1111.5 200.7L1113.9 198.5L1120.1 194.3M1120.1 194.3L1117.2 192.2L1116.7 189.7L1117.2 186.7L1116.7 183.7L1116.0 180.9L1113.9 178.1L1115.0 176.6L1115.0 173.8L1115.4 173.2M1116.7 183.7L1117.8 181.4L1119.4 180.1L1119.4 179.0M1138.1 181.5L1138.1 196.7L1138.1 199.8L1136.7 199.8L1136.7 200.6L1125.7 194.3L1124.3 195.1L1123.2 195.7L1120.1 194.3M1138.1 196.7L1154.6 196.7M1096.9 191.9L1094.9 198.2L1095.7 205.3L1096.0 206.9L1090.6 206.9L1088.7 207.0L1087.6 206.7L1086.6 208.0L1084.8 205.8L1083.4 205.2L1080.8 205.8M1086.6 208.0L1087.7 211.8L1084.5 211.5L1082.7 211.3L1080.4 211.8M1084.5 211.5L1084.5 212.9L1082.7 214.0M1080.2 209.9L1082.7 209.6L1084.4 210.2L1082.7 210.5L1080.2 210.7M1087.7 211.8L1090.6 211.8L1092.0 214.0L1092.4 215.2L1092.7 217.9L1092.0 219.3L1090.5 219.6L1089.2 217.9L1088.5 216.8L1087.6 215.6L1085.1 217.0M1089.2 217.9L1087.6 220.4M1092.0 219.3L1093.1 224.4M1092.4 215.2L1095.2 214.8L1095.9 214.9L1095.9 212.7L1097.4 211.3L1098.0 210.2L1099.5 209.2L1100.7 207.8L1102.5 207.7L1103.8 207.7L1104.9 207.8L1108.3 207.0L1109.3 205.3L1109.3 201.2M1095.9 214.9L1099.6 216.0L1100.0 218.4L1099.1 221.1L1099.5 223.3M1099.6 216.0L1099.6 214.0L1103.2 213.8L1104.7 214.0M1103.5 213.8L1104.2 217.9L1105.2 221.7M1104.7 214.0L1105.7 217.1L1105.9 221.4M1107.4 221.4L1107.2 217.1L1108.5 212.9M1103.8 207.7L1104.9 210.2L1106.7 211.9L1108.5 212.9L1109.0 210.0L1113.2 210.8L1116.0 211.1L1120.1 210.5L1122.3 209.7M1122.3 209.7L1123.2 211.6L1121.8 215.6L1120.1 217.9L1118.7 220.7L1116.0 221.9L1115.3 223.7M1124.3 195.1L1125.5 199.2L1125.0 204.7L1122.3 209.7M1136.7 200.6L1136.7 206.6L1135.2 206.9L1134.2 210.8L1135.2 214.0M1135.2 214.0L1132.6 216.3L1129.8 217.1L1126.8 219.3L1125.0 219.5M1123.2 211.6L1124.4 214.3L1122.9 215.6L1125.0 219.5L1123.6 222.6L1124.3 225.3L1125.8 227.8M1125.8 227.8L1121.8 227.8L1119.1 227.8L1117.1 227.7M1119.1 227.8L1119.1 229.7L1116.8 229.7M1121.8 227.8L1123.6 229.7L1122.9 232.1L1123.6 234.5L1120.8 234.9L1121.2 236.8L1118.9 237.4M1125.8 227.8L1129.1 225.8L1129.3 224.5L1131.2 224.1L1134.7 224.8L1138.1 223.4L1141.4 223.3M1135.2 214.0L1136.0 217.4L1141.4 223.3M1136.0 217.4L1138.1 215.1L1142.3 216.5L1145.0 215.6L1147.1 216.0L1149.2 215.2L1150.4 216.3M1156.9 203.0L1154.7 204.5L1154.0 208.8L1153.5 211.3L1152.0 214.0L1151.0 214.8L1150.4 216.3L1149.2 219.0L1152.0 222.6L1153.2 224.1M1154.0 208.8L1156.1 208.1L1158.9 208.5L1162.2 211.6L1161.4 214.0L1163.0 213.2M1161.4 214.0L1162.6 214.6L1163.7 216.5L1165.8 217.8L1170.0 218.7L1165.8 223.4L1163.0 224.5L1161.5 225.2M1163.3 213.2L1163.0 213.2M1153.2 224.1L1151.1 224.7L1150.6 224.7M1153.2 224.1L1154.6 224.4L1156.3 225.6L1158.2 225.8L1160.3 225.2L1161.5 225.2L1160.3 226.7L1160.3 232.6L1161.1 234.0M1150.6 224.7L1151.3 226.6L1152.0 228.6L1150.6 231.0L1150.4 232.9L1155.6 236.0L1157.8 238.7M1141.4 223.3L1144.3 224.4L1146.1 225.8L1150.6 224.7M1146.1 225.8L1146.4 227.7L1144.9 230.0L1144.5 233.5L1143.7 235.6L1143.9 236.5L1144.2 238.4L1144.5 241.2L1146.1 244.4M1144.5 233.5L1145.7 233.0L1150.4 232.9M1145.7 233.0L1146.1 235.1L1145.6 236.0L1146.1 236.5L1145.6 238.2L1144.2 238.4M1143.7 235.6L1145.6 236.0M1146.1 244.4L1149.1 246.1L1150.6 246.3L1151.4 249.6L1155.4 249.7L1159.4 247.8M1151.4 249.6L1153.1 253.0L1153.1 256.5L1152.4 258.2L1151.1 257.0L1151.3 254.1L1149.2 253.4L1148.8 252.7L1149.6 251.0L1149.1 246.1M1149.2 253.4L1145.3 254.9L1145.6 255.9M1146.1 244.4L1143.5 244.7L1142.8 245.9L1143.2 248.2L1142.8 249.9L1143.7 250.8L1144.8 250.5L1144.8 252.4L1143.7 252.4L1141.2 249.9L1138.5 248.9L1137.3 249.1L1136.7 248.5M1136.7 248.5L1136.7 251.8L1134.0 251.8L1134.0 256.8L1135.9 259.0M1136.7 248.5L1134.2 248.9L1133.7 246.3L1133.7 242.8L1130.5 242.3L1129.8 243.9L1127.7 244.1L1126.5 240.6L1121.5 240.6L1120.5 240.8M1129.3 225.8L1128.1 232.1L1125.9 234.5L1125.7 237.6L1123.4 239.0L1121.6 238.5L1120.4 240.4M1119.8 258.5L1122.9 258.7L1129.0 258.7L1133.1 259.7L1135.9 259.0L1138.5 259.3M1132.6 260.1L1132.6 265.9L1131.2 265.9L1131.2 270.4L1131.2 276.0L1129.8 276.8L1127.6 276.5L1126.3 276.3M1131.2 270.4L1132.3 273.5L1134.8 272.2L1135.3 271.1L1138.8 271.8L1140.7 268.6L1144.2 266.3M1138.5 259.3L1139.8 262.2L1141.9 263.6L1144.2 266.3L1146.8 266.6M1138.5 259.3L1140.9 259.5L1143.5 256.5L1145.6 255.9L1149.1 257.6L1148.9 262.0L1148.5 264.8L1146.8 266.6L1147.8 269.9L1147.7 272.1L1147.9 273.5L1149.1 273.7M1140.9 277.9L1143.0 276.5L1144.2 277.9L1142.7 279.5L1140.9 277.9M1146.4 272.2L1147.8 272.7L1147.7 274.1L1146.4 273.8L1146.4 272.2M1004.8 212.7L1003.1 213.8L1002.4 216.8L1003.3 219.6L1006.4 220.3L1007.4 221.7L1010.0 221.5L1009.6 225.0L1010.7 228.2L1010.9 229.4M1010.9 229.4L1006.9 228.6L1007.4 232.9L1006.7 237.9M1006.7 237.9L1005.9 237.3L1002.6 235.1L999.1 231.5L996.2 230.7L994.3 229.1M999.1 231.5L998.8 233.7L995.1 236.7L994.1 239.2L992.3 236.7M1006.7 237.9L1002.6 239.5L1001.2 242.8L1002.6 246.1L1005.9 246.1L1005.7 248.6L1007.1 248.5M1007.1 248.5L1008.4 251.1L1008.0 254.6L1007.3 258.9L1006.0 260.1M1007.1 248.5L1013.1 246.7L1013.5 250.2L1017.9 252.6L1020.1 257.0L1022.8 257.0L1023.9 259.7L1022.9 263.0M1022.9 263.0L1017.2 263.6L1016.7 266.3L1014.5 267.2L1011.8 265.6L1010.5 267.2L1009.1 264.8L1008.4 262.0L1007.3 258.9M1010.5 267.2L1008.8 270.4L1008.7 273.8L1006.9 278.6L1006.2 283.3L1005.9 288.0L1005.1 292.7L1004.1 297.4L1004.4 302.2L1003.0 306.9L1002.4 310.1L1003.4 312.4L1008.8 313.7M1008.5 314.3L1008.5 317.8M1016.7 266.3L1020.4 269.1L1023.6 271.1L1022.4 274.1L1026.0 274.3L1027.9 271.6M1022.9 263.0L1023.3 266.1L1026.4 266.6L1026.8 269.1L1028.3 269.3L1027.9 271.6L1029.0 274.0L1026.2 276.0L1023.7 278.9M1023.7 278.9L1026.0 279.8L1029.4 283.0L1029.6 284.4M1023.7 278.9L1022.9 282.5L1022.6 284.9M1010.9 229.4L1012.8 230.0L1015.7 227.8L1014.6 224.8L1016.5 225.0L1019.5 223.1L1018.5 221.9L1020.4 217.9M1019.5 223.1L1020.4 224.2L1020.8 228.3L1021.9 229.3L1025.3 228.3L1028.6 227.7L1030.7 227.7L1032.1 224.7M1025.3 228.3L1023.2 225.0L1024.4 222.0M1028.6 227.7L1028.2 224.2L1028.7 222.2M975.8 208.5L976.5 205.9L978.3 205.9L977.5 204.2L977.5 203.3L980.0 203.3L980.0 206.3L980.4 206.3M980.0 206.3L979.9 208.6L978.7 209.7M979.9 208.6L981.9 210.2M982.1 210.8L983.5 209.6L985.8 208.5L988.3 207.7M984.8 213.8L987.6 214.1M988.6 218.2L989.1 216.2M1004.1 200.3L1004.2 202.8M1091.3 165.3L1094.5 165.5L1093.8 168.3L1093.3 170.7L1093.3 172.7M1108.2 150.3L1110.4 150.3L1111.7 151.3L1111.9 152.4L1111.5 153.3M1113.5 147.4L1113.2 149.1L1111.8 149.7L1111.8 151.0M1115.4 144.8L1117.1 145.0M1124.3 151.0L1126.3 152.1L1129.5 153.3L1134.8 154.0L1136.7 151.4L1136.2 149.4L1136.6 146.2L1135.1 145.6L1130.9 145.6M1122.6 154.4L1126.9 154.8L1129.5 156.0L1134.2 155.1L1134.8 154.0M1129.5 153.3L1126.9 154.8L1127.2 155.7L1125.8 157.6L1122.5 158.1L1120.7 157.7L1117.9 157.7M1122.5 158.1L1122.5 159.5M1116.8 156.5L1118.0 156.6M1125.8 157.6L1129.5 159.0L1131.6 158.7L1134.2 155.1L1138.0 156.2L1140.3 155.2L1143.8 155.7L1145.0 158.1M1140.3 155.2L1142.5 159.6L1144.5 160.0M1134.9 161.7L1138.8 162.5L1140.9 161.8L1143.1 162.5M1131.6 158.7L1133.1 160.7L1134.9 161.7L1134.5 164.7L1135.3 166.3L1139.9 165.6L1142.3 165.2M1139.9 165.6L1139.5 167.0M1131.2 168.8L1132.6 166.9L1135.3 166.3M1130.4 165.3L1131.9 164.8L1131.9 166.3L1132.6 166.9M1131.9 164.8L1134.5 164.7M1122.5 159.5L1124.7 159.6L1126.3 158.1M1125.4 160.1L1126.3 162.0L1127.9 163.6L1129.1 164.4L1130.4 165.3M1125.4 160.1L1129.8 160.4L1130.4 161.5L1130.1 162.8L1129.1 164.4M1129.8 160.4L1129.5 159.0M1129.8 160.4L1131.6 158.7M1130.1 162.8L1131.9 164.8M1132.6 142.9L1138.1 142.5L1140.3 143.6M1137.1 140.1L1141.3 140.7L1142.3 137.7M1140.3 143.6L1142.5 142.9L1141.3 140.7M1136.6 146.2L1139.2 145.8L1140.3 143.6M1135.1 145.6L1135.1 144.5L1132.9 144.2M1136.2 150.2L1140.9 150.2L1145.7 150.5L1147.5 149.2M1142.5 142.9L1146.3 143.7L1146.4 146.2L1148.8 147.2L1147.5 149.2L1150.6 148.9L1152.7 151.8L1156.1 152.6L1159.0 153.2L1158.6 155.7L1156.4 157.1M1142.0 136.0L1145.0 133.7L1147.1 132.2L1145.0 130.5L1144.3 126.6L1143.7 124.2L1143.0 122.6L1143.7 121.5L1146.1 121.4M1136.9 127.7L1136.3 125.0L1132.0 122.6L1139.1 122.2L1142.3 121.1L1143.7 121.5M1132.0 122.6L1128.4 123.4L1125.7 126.6L1123.6 128.5L1122.5 130.5L1120.3 131.3L1120.4 134.4L1120.9 136.0L1119.8 137.6L1119.0 138.4M1093.4 144.7L1092.4 145.5L1094.8 146.1M1153.3 174.6L1154.3 173.3L1156.8 173.3L1160.3 172.9L1162.2 172.7L1165.5 172.7L1164.6 169.2L1165.5 168.8M1161.1 165.8L1163.7 166.6L1164.0 168.0L1165.5 168.8L1167.9 170.0L1170.0 169.1L1171.2 170.8M1158.9 162.9L1162.3 163.3L1165.8 164.4L1167.9 165.5L1170.7 165.5M1167.9 165.5L1165.8 166.3L1163.7 166.6M1165.8 166.3L1167.9 170.0M1162.2 172.7L1160.5 176.5L1157.2 178.7L1154.5 180.4L1153.1 179.8M1152.1 179.2L1153.1 178.9L1154.2 177.4L1153.3 176.8M1152.8 179.8L1152.7 181.7L1152.0 184.8M1151.0 182.0L1151.8 184.8M1152.0 184.8L1153.5 185.3L1155.4 184.1L1154.7 181.7L1157.5 180.9L1157.8 180.6L1157.2 178.7M1157.8 180.6L1161.7 182.3L1165.4 185.3L1167.9 185.5L1169.5 186.4L1170.5 186.4M1167.9 185.5L1169.1 183.9L1170.0 184.1M1165.5 172.7L1166.5 174.8L1167.2 176.2L1166.5 177.8L1167.2 179.3L1169.7 180.9L1169.5 182.5L1170.7 184.1M1162.8 205.5L1163.5 203.7L1167.9 204.2L1170.0 202.2L1175.5 201.4L1177.0 205.0M1175.5 201.4L1179.7 199.8L1180.6 196.7L1179.9 195.5L1176.3 195.2L1174.9 193.2M1179.9 195.5L1181.0 193.5L1181.5 191.9M1173.8 192.4L1174.4 192.6M1178.1 172.6L1181.7 171.1L1184.5 172.1L1188.0 173.7L1188.2 175.2L1187.4 177.8L1188.0 181.7L1189.1 182.5L1187.8 184.4L1190.0 185.0L1191.1 188.5L1188.8 191.6M1187.8 184.4L1192.1 184.8L1195.3 184.2L1195.9 182.2L1199.5 181.1L1200.4 178.5L1201.8 177.0L1202.5 174.1L1206.7 173.0M1188.2 175.2L1192.8 174.1L1195.6 172.4L1197.7 173.0L1200.4 172.1L1202.5 171.5L1202.6 173.5L1206.7 172.7M1195.6 172.4L1190.0 168.3L1188.0 166.4L1184.5 164.0L1181.0 166.3L1181.0 160.4L1184.5 159.6L1188.0 161.5L1192.8 162.6L1194.9 165.2L1197.7 166.7L1201.1 165.2L1201.8 164.7M1176.2 165.5L1179.2 165.2L1181.0 166.3M1201.8 164.7L1205.3 163.6L1208.3 163.9L1214.5 164.8L1215.0 160.4L1217.7 160.1L1218.4 157.0L1221.9 157.3L1224.4 153.8M1224.4 153.8L1221.2 152.6L1219.1 151.0L1214.3 151.3L1211.2 147.4L1209.4 145.9L1205.3 146.2L1201.8 144.2L1199.0 144.2L1193.5 145.6L1188.0 146.2L1188.7 150.5L1186.6 151.4L1184.5 151.0L1180.3 151.6L1176.2 150.2L1173.8 150.0L1170.7 152.6L1168.3 155.2L1171.3 158.1M1214.5 164.8L1209.8 166.9L1205.7 169.1L1207.2 172.7M1201.8 164.7L1201.1 167.0L1205.7 169.1M1197.7 166.7L1201.1 167.0L1199.0 169.1L1197.0 169.4L1197.7 173.0M1199.0 169.1L1202.5 168.9L1205.7 169.1M1224.4 153.8L1230.9 151.4L1239.2 149.4L1245.1 151.8L1251.0 152.1L1257.2 153.7L1265.1 152.9M1224.4 153.8L1229.4 158.1L1229.5 160.1L1235.7 161.7L1237.0 164.0L1243.3 164.4L1248.9 165.8L1255.8 164.0L1258.6 162.3L1258.3 160.4L1263.4 159.6L1264.8 158.1L1269.4 157.7L1266.6 155.7L1265.1 152.9M1265.1 152.9L1268.5 152.1L1271.0 147.4L1277.3 147.8L1280.0 152.6L1284.6 155.2L1289.7 155.1L1287.7 160.4L1284.9 160.7L1284.5 164.5M1284.5 164.5L1280.7 165.9L1279.1 165.6L1275.6 168.5M1278.9 171.8L1281.3 170.5M1253.0 197.4L1251.2 195.4L1248.9 194.8L1245.0 196.0L1243.6 197.9L1241.3 195.4L1239.2 193.5L1240.2 190.4L1238.5 186.7M1238.5 186.7L1236.4 188.3L1234.6 191.9L1232.7 196.3L1231.7 197.8L1231.3 198.7M1231.7 197.8L1231.2 194.0L1229.8 193.5L1231.4 191.9L1227.8 191.5L1226.0 189.7L1225.5 191.9L1226.6 196.2L1226.7 197.1M1238.5 186.7L1235.0 185.3L1230.9 187.5L1226.7 188.3L1225.5 187.4L1222.6 187.2L1219.1 184.8L1215.7 183.6M1230.9 187.5L1230.9 189.1L1226.7 189.1L1226.7 188.3M1225.5 187.4L1225.3 189.7L1221.2 189.2L1216.3 187.2L1214.4 185.9L1215.7 183.6M1215.7 183.6L1212.9 182.0L1212.5 179.8L1213.6 177.0L1211.5 175.4L1208.7 174.9L1207.2 172.7M1210.1 175.4L1206.0 176.6L1206.7 179.6L1206.8 182.5L1204.6 184.4L1201.1 187.2L1199.9 188.8L1201.8 192.4L1197.9 194.0M1243.6 197.9L1242.1 199.2L1239.2 200.3L1238.4 202.2L1240.0 205.6L1239.5 207.5L1240.9 211.3L1240.0 215.6M1242.1 199.2L1242.7 200.6L1243.8 200.6L1243.3 203.3L1244.9 202.6L1247.5 202.5L1248.6 205.3L1249.7 206.7L1249.7 208.6M1249.7 208.6L1246.1 208.8L1245.3 209.9L1246.0 212.9M1245.0 196.0L1246.1 198.2L1248.2 199.2L1247.5 200.6L1249.2 202.2L1251.1 205.2L1252.3 207.7L1252.3 208.6L1249.7 208.6M1252.3 208.6L1252.3 211.9L1250.3 214.0L1248.2 214.9M1242.1 221.2L1243.5 222.3L1244.9 221.5M1255.3 228.2L1257.2 229.7L1260.0 229.1L1262.5 228.2L1263.4 225.8L1266.3 224.7M1298.7 235.4L1298.7 245.6M1275.3 246.1L1276.6 245.8L1276.9 246.9" fill="none" stroke="#01121b" stroke-width="1.1" stroke-linejoin="round"/>
<path d="M933.5 154.1L971.7 154.1L972.2 153.7L972.5 154.6L976.1 155.2L979.4 155.7L981.4 155.4L985.9 157.4L986.5 158.1L987.9 158.7L987.9 159.2L989.3 160.0L989.8 162.6L989.3 164.2L988.4 165.0L989.3 165.6L994.1 163.9L994.1 162.8L997.2 162.6L997.9 161.7L999.7 160.4L1004.5 160.4L1005.5 159.8L1006.6 158.1L1007.7 156.6L1008.9 156.8L1009.6 157.1L1009.6 159.3L1010.7 160.7L1008.7 161.5L1006.6 162.5L1005.6 163.6L1005.5 164.4L1006.6 165.5L1004.6 165.9L1001.7 166.9L1001.0 167.5L1000.8 168.9L999.7 170.0L999.0 171.6L998.3 173.2L998.7 175.2L997.6 176.6L995.6 177.9L993.8 179.0L991.6 180.7L990.8 182.9L990.9 184.4L992.0 186.6L992.7 189.1L992.3 191.3L991.3 191.8L990.2 190.2L989.0 187.8L988.9 185.6L987.6 184.2L985.9 184.5L984.0 183.4L981.7 183.6L979.7 183.7L979.6 185.3L978.2 185.5L976.4 184.8L974.0 184.4L972.4 185.0L970.6 186.4L968.9 187.8L968.9 190.5L966.1 189.7L965.7 188.0L964.3 185.9L963.0 184.4L961.6 184.5L960.6 185.6L958.8 184.7L958.1 182.9L956.0 181.2L953.7 181.2L953.7 182.0L949.8 182.0L944.5 180.1L941.4 180.1L941.1 179.2L939.6 178.1L938.5 177.4L936.5 176.8L934.7 173.7L933.9 171.8L932.1 169.1L931.4 167.8L931.5 165.5L931.1 163.9L931.8 161.2L931.8 158.5L930.8 155.1L933.2 155.2L933.5 154.1ZM908.3 121.7L902.7 121.1L898.6 120.4L893.0 119.8L886.8 119.0L883.3 119.8L879.2 120.7L877.1 122.3L873.7 122.9L876.4 124.8L877.8 125.8L879.9 126.9L876.4 126.6L873.7 127.4L870.9 128.0L873.7 129.6L877.8 129.7L880.6 129.9L880.6 131.3L877.8 131.9L875.7 132.4L873.7 134.3L875.0 135.7L876.4 137.0L878.5 137.0L879.2 138.4L882.0 138.8L884.0 138.7L885.7 138.8L885.4 140.7L884.3 142.2L886.1 141.7L887.5 140.7L890.3 139.3L891.0 137.9L893.0 136.0L895.8 134.9L893.7 137.6L896.5 137.1L898.6 136.0L901.3 135.5L904.1 136.6L908.3 136.8L908.3 136.3Z" fill="#c8071f" stroke="#02141e" stroke-width="0.5"/>
<path d="M1111.8 151.0L1113.2 147.0L1115.7 146.1L1115.4 144.8L1117.1 145.0L1118.5 146.2L1120.1 145.9L1122.2 145.5L1123.3 146.4L1123.9 149.4L1124.3 151.0L1120.4 152.1L1122.6 154.4L1121.5 156.5L1118.0 156.6L1114.0 156.3L1114.9 154.1L1112.1 153.3Z" fill="#8a1c22" stroke="#02141e" stroke-width="0.5"/>
<path d="M1112.2 158.2L1114.0 156.6L1116.5 156.6L1117.3 157.7L1116.0 158.7L1113.5 158.9Z" fill="#6b7f2a"/>
<path d="M1101.0 162.9L1101.8 161.1L1102.0 159.2L1100.5 157.3L1097.3 155.9L1097.0 154.9L1099.3 154.4L1101.3 154.6L1101.0 153.0L1101.8 153.5L1103.8 153.3L1105.6 152.4L1105.9 151.1L1107.0 150.8L1109.3 152.6L1111.5 153.3L1114.9 154.1L1114.0 156.3L1111.8 158.2L1113.2 159.0L1112.9 160.4L1114.0 162.3L1112.1 163.4L1110.1 162.9L1108.3 163.1L1107.8 164.5L1105.6 164.4L1103.5 164.0Z" fill="#fb1233" stroke="#02141e" stroke-width="0.4"/>
</svg>
</body></html>
